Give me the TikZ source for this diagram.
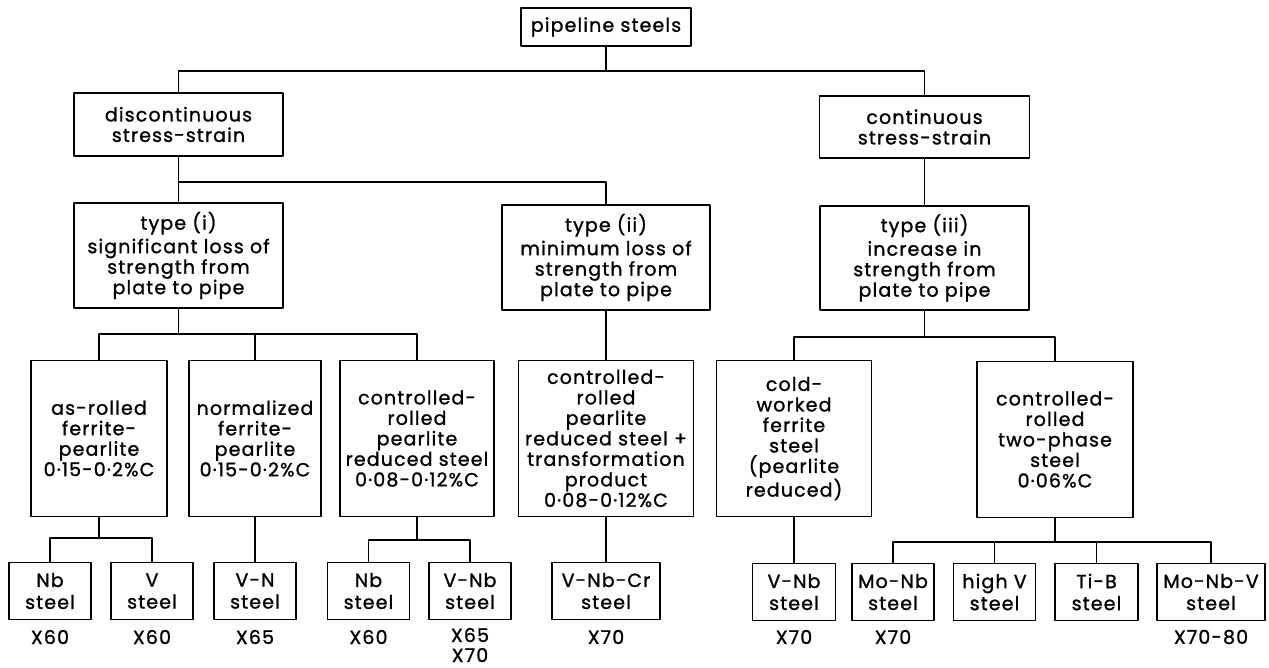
\documentclass[tikz,border=0pt]{standalone}
\usepackage{fontspec}
\setmainfont[LetterSpace=6,FakeBold=1.2]{Poppins}

\begin{document}
\begin{tikzpicture}[x=1pt,y=-1pt,line join=round,
  box/.style={draw,line width=1.6pt,align=center,inner sep=0pt,font=\fontsize{19}{20.5}\selectfont},
  leaf/.style={box,minimum width=82pt,minimum height=57pt,font=\fontsize{19}{22}\selectfont},
  grade/.style={align=center,inner sep=0pt,font=\fontsize{19}{20}\selectfont},
  link/.style={line width=1.6pt}]
  \useasboundingbox (0,0) rectangle (1269,667);
  % top and first split
  \node[box,minimum width=170pt,minimum height=38pt] (T) at (606,27) {pipeline steels};
  \node[box,minimum width=209pt,minimum height=63pt] (DS) at (178.5,124.5) {discontinuous\\stress-strain};
  \node[box,minimum width=210pt,minimum height=62pt] (CS) at (924.5,127) {continuous\\stress-strain};
  % types
  \node[box,minimum width=209pt,minimum height=105pt] (T1) at (178.5,255.5) {type (i)\\[3pt]significant loss of\\strength from\\plate to pipe};
  \node[box,minimum width=208pt,minimum height=105pt] (T2) at (606,257.5) {type (ii)\\[3pt]minimum loss of\\strength from\\plate to pipe};
  \node[box,minimum width=209pt,minimum height=104pt] (T3) at (924.5,258) {type (iii)\\[3pt]increase in\\strength from\\plate to pipe};
  % microstructures
  \node[box,minimum width=136pt,minimum height=156pt] (AR) at (99,438.5) {as-rolled\\ferrite-\\pearlite\\0·15-0·2\%C};
  \node[box,minimum width=132pt,minimum height=156pt] (NO) at (255,438.5) {normalized\\ferrite-\\pearlite\\0·15-0·2\%C};
  \node[box,minimum width=154pt,minimum height=156pt] (CR) at (417,438.5) {controlled-\\rolled\\pearlite\\reduced steel\\0·08-0·12\%C};
  \node[box,minimum width=175pt,minimum height=156pt] (CT) at (606,438.5) {controlled-\\rolled\\pearlite\\reduced steel +\\transformation\\product\\0·08-0·12\%C};
  \node[box,minimum width=155pt,minimum height=156pt] (CW) at (794,438.5) {cold-\\worked\\ferrite\\steel\\(pearlite\\reduced)};
  \node[box,minimum width=156pt,minimum height=156pt] (TP) at (1055,439.5) {controlled-\\rolled\\two-phase\\steel\\0·06\%C};
  % steels
  \node[leaf] (B1) at (50,591) {Nb\\steel};
  \node[leaf] (B2) at (152,591) {V\\steel};
  \node[leaf] (B3) at (255,591) {V-N\\steel};
  \node[leaf] (B4) at (368.5,591) {Nb\\steel};
  \node[leaf] (B5) at (470,591) {V-Nb\\steel};
  \node[leaf,minimum width=108pt] (B6) at (606,591) {V-Nb-Cr\\steel};
  \node[leaf,minimum width=83pt] (B7) at (794,592) {V-Nb\\steel};
  \node[leaf] (B8) at (893,592) {Mo-Nb\\steel};
  \node[leaf] (B9) at (994.5,592) {high V\\steel};
  \node[leaf,minimum width=83pt] (B10) at (1096.5,592) {Ti-B\\steel};
  \node[leaf,minimum width=108pt] (B11) at (1211,592) {Mo-Nb-V\\steel};
  % grades
  \node[grade] (L1) at (50,637) {X60};
  \node[grade] (L2) at (152,637) {X60};
  \node[grade] (L3) at (255,637) {X65};
  \node[grade] (L4) at (368.5,637) {X60};
  \node[grade] (L5) at (470,645) {X65\\X70};
  \node[grade] (L6) at (606,637) {X70};
  \node[grade] (L7) at (794,637) {X70};
  \node[grade] (L8) at (893,637) {X70};
  \node[grade] (L11) at (1211,637) {X70-80};
  % bus junctions
  \coordinate (J0) at (606,71);
  \coordinate (J1) at (178.5,182);
  \coordinate (J2) at (178.5,334);
  \coordinate (J3) at (924.5,337);
  \coordinate (J4) at (99,538);
  \coordinate (J5) at (417,540);
  \coordinate (J6) at (1055,542);
  % connectors
  \draw[link] (T) -- (J0);
  \draw[link] (DS.north) |- (J0) -| (CS.north);
  \draw[link] (DS) -- (T1);
  \draw[link] (J1) -| (T2.north);
  \draw[link] (CS) -- (T3);
  \draw[link] (T1) -- (J2);
  \draw[link] (AR.north) |- (J2) -| (CR.north);
  \draw[link] (NO.north) -- (NO.north |- J2);
  \draw[link] (T2) -- (CT);
  \draw[link] (T3) -- (J3);
  \draw[link] (CW.north) |- (J3) -| (TP.north);
  \draw[link] (AR) -- (J4);
  \draw[link] (B1.north) |- (J4) -| (B2.north);
  \draw[link] (NO) -- (B3);
  \draw[link] (CR) -- (J5);
  \draw[link] (B4.north) |- (J5) -| (B5.north);
  \draw[link] (CT) -- (B6);
  \draw[link] (CW) -- (B7);
  \draw[link] (TP) -- (J6);
  \draw[link] (B8.north) |- (J6) -| (B11.north);
  \draw[link] (B9.north) -- (B9.north |- J6);
  \draw[link] (B10.north) -- (B10.north |- J6);
\end{tikzpicture}
\end{document}
